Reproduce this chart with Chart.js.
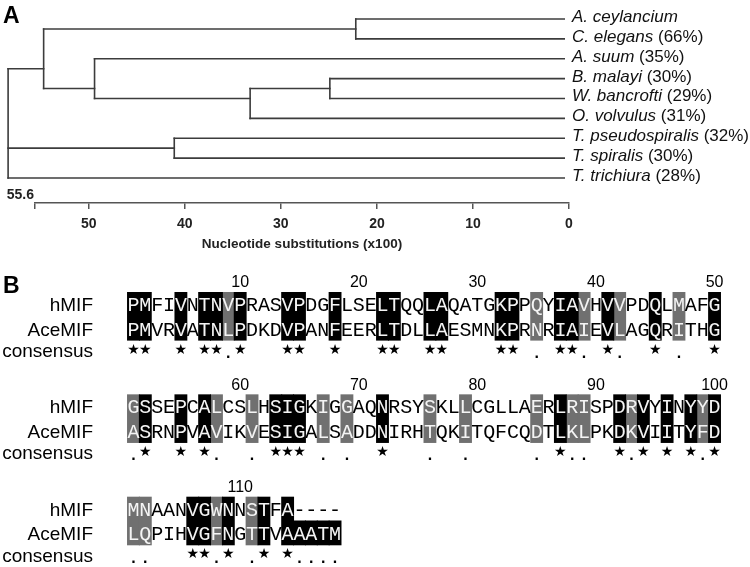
<!DOCTYPE html>
<html>
<head>
<meta charset="utf-8">
<script src="https://cdn.jsdelivr.net/npm/chart.js@4.4.1/dist/chart.umd.min.js"></script>
<style>
html, body { margin: 0; padding: 0; background: #fff; }
canvas { display: block; }
</style>
</head>
<body>
<canvas id="tree" width="750" height="255"></canvas>
<canvas id="align" width="750" height="312"></canvas>
<script>
// ---- panel A : MIF tree ----
const leafNames = ['A. ceylancium', 'C. elegans', 'A. suum', 'B. malayi', 'W. bancrofti',
                   'O. volvulus', 'T. pseudospiralis', 'T. spiralis', 'T. trichiura'];
const leafIdentity = [null, 66, 35, 30, 29, 31, 32, 30, 28];
// node height (nucleotide substitutions x100) and children (leaf index or node name)
const nodeHeight = { ce: 22.2, bw: 24.9, bwo: 33.2, asbwo: 49.4, top: 54.7, tt: 41.1, root: 58.4 };
const nodeKids = { ce: [0, 1], bw: [3, 4], bwo: ['bw', 5], asbwo: [2, 'bwo'],
                   top: ['ce', 'asbwo'], tt: [6, 7], root: ['top', 'tt', 8] };
const leafEnd = 0.5;
const axisTicks = [55.6, 50, 40, 30, 20, 10, 0];

// ---- panel B : hMIF / AceMIF alignment ----
const blockNumbers = [[10, 20, 30, 40, 50], [60, 70, 80, 90, 100], [110]];
const hMIF = ['PMFIVNTNVPRASVPDGFLSELTQQLAQATGKPPQYIAVHVVPDQLMAFG',
              'GSSEPCALCSLHSIGKIGGAQNRSYSKLLCGLLAERLRISPDRVYINYYD',
              'MNAANVGWNNSTFA----'];
const aceMIF = ['PMVRVATNLPDKDVPANFEERLTDLLAESMNKPRNRIAIEVLAGQRITHG',
                'ASRNPVAVIKVESIGALSADDNIRHTQKITQFCQDTLKLPKDKVIITYFD',
                'LQPIHVGFNGTTVAAATM'];
const consensus = ['**  * **.*   **  *   **  **    ** . **. *.  * .  *',
                   '.*  * *.  . *** . .  *   .  .     . *..  *.* * *.*',
                   '..   **.* .* *....'];
// K = identical (black), G = similar (grey), a = AceMIF row only
const shade = ['KK  K KKGK   KK  K   KK  KK    KK G KKG KG  K G  K',
               'GK  K KG  G KKK G G  K   G  G     G KGG  KGK K KGK',
               'GG   KKGK GK Kaaaa'];
const rowNames = ['hMIF', 'AceMIF', 'consensus'];

Chart.defaults.font.family = '"Liberation Sans", Arial, sans-serif';
const SANS = '"Liberation Sans", Arial, sans-serif';

// tree segments
function leavesOf(k) { return typeof k === 'number' ? [k] : nodeKids[k].flatMap(leavesOf); }
function yOf(k) { const l = leavesOf(k); return l.reduce((a, b) => a + b, 0) / l.length; }
function xOf(k) { return typeof k === 'number' ? leafEnd : nodeHeight[k]; }
const segs = [];
Object.keys(nodeKids).forEach(n => {
  const h = nodeHeight[n];
  const ys = nodeKids[n].map(yOf);
  segs.push([{ x: h, y: Math.min(...ys) }, { x: h, y: Math.max(...ys) }]);
  nodeKids[n].forEach((k, i) => segs.push([{ x: h, y: ys[i] }, { x: xOf(k), y: ys[i] }]));
});

const treeLabels = {
  id: 'treeLabels',
  afterDraw(chart) {
    const { ctx, scales: { x, y } } = chart;
    ctx.save();
    ctx.fillStyle = '#000';
    ctx.textBaseline = 'alphabetic';
    ctx.font = 'bold 23px ' + SANS;
    ctx.fillText('A', 3, 23);
    const lx = x.getPixelForValue(0) + 3;
    leafNames.forEach((name, i) => {
      const py = y.getPixelForValue(i) + 3;
      ctx.fillStyle = '#111';
      ctx.font = 'italic 17px ' + SANS;
      ctx.fillText(name, lx, py);
      if (leafIdentity[i] != null) {
        const w = ctx.measureText(name + ' ').width;
        ctx.font = '17px ' + SANS;
        ctx.fillText('(' + leafIdentity[i] + '%)', lx + w, py);
      }
    });
    ctx.font = 'bold 14px ' + SANS;
    ctx.fillStyle = '#222';
    ctx.textAlign = 'right';
    ctx.fillText(String(axisTicks[0]), x.left - 1, x.top - 4);
    ctx.restore();
  }
};

new Chart(document.getElementById('tree'), {
  type: 'scatter',
  data: {
    datasets: segs.map(s => ({
      data: s, showLine: true, borderColor: '#3c3c3c', borderWidth: 1.6,
      borderCapStyle: 'square', pointRadius: 0, clip: false
    }))
  },
  options: {
    responsive: false, animation: false,
    layout: { padding: { left: 35, right: 181, top: 19, bottom: 0 } },
    plugins: { legend: { display: false }, tooltip: { enabled: false } },
    scales: {
      x: {
        type: 'linear', reverse: true, min: 0, max: 55.6,
        afterBuildTicks: s => { s.ticks = axisTicks.map(v => ({ value: v })); },
        afterFit: s => { s.height = 52; },
        grid: { drawOnChartArea: false, drawTicks: true, tickLength: 6, color: '#555', lineWidth: 1.5 },
        border: { display: true, color: '#555', width: 1.5 },
        ticks: {
          padding: 7, maxRotation: 0, autoSkip: false, color: '#222',
          font: { size: 14, weight: 'bold' },
          callback: v => (v === axisTicks[0] ? '' : v)
        },
        title: {
          display: true, text: 'Nucleotide substitutions (x100)', color: '#222',
          font: { size: 13.5, weight: 'bold' }, padding: { top: 0, bottom: 3 }
        }
      },
      y: { type: 'linear', reverse: true, min: 0, max: 9.26, display: false }
    }
  },
  plugins: [treeLabels]
});

// ---- alignment panel ----
const ROW = 23;            // px per row unit
const FIRST = 2.13;        // hMIF row centre of block 1 (row units)
const STEP = 4.45;         // block pitch
const ACE = 1.07, CONS = 2.0, NUM = -0.98;
const identCells = [], simCells = [];
shade.forEach((s, b) => {
  const base = FIRST + b * STEP;
  [...s].forEach((k, i) => {
    if (k === 'K') identCells.push({ x: i + 1, y: [base - 0.5, base + ACE + 0.5] });
    else if (k === 'G') simCells.push({ x: i + 1, y: [base - 0.5, base + ACE + 0.5] });
    else if (k === 'a') identCells.push({ x: i + 1, y: [base + 0.535, base + ACE + 0.5] });
  });
});

const alignText = {
  id: 'alignText',
  afterDatasetsDraw(chart) {
    const { ctx, scales: { x, y } } = chart;
    ctx.save();
    ctx.fillStyle = '#000';
    ctx.textBaseline = 'alphabetic';
    ctx.font = 'bold 23px ' + SANS;
    ctx.fillText('B', 3, 38);
    hMIF.forEach((hs, b) => {
      const base = FIRST + b * STEP;
      const rows = [hs, aceMIF[b]];
      // row names
      ctx.textAlign = 'right';
      ctx.fillStyle = '#000';
      ctx.font = '19px ' + SANS;
      [base, base + ACE, base + CONS].forEach((r, j) => {
        ctx.fillText(rowNames[j], 93, y.getPixelForValue(r) + 7);
      });
      // numbers
      ctx.textAlign = 'center';
      ctx.font = '16px ' + SANS;
      blockNumbers[b].forEach(n => {
        ctx.fillText(String(n), x.getPixelForValue(n - (b * 50)), y.getPixelForValue(base + NUM) + 6);
      });
      // residues
      ctx.font = '20px "Liberation Mono", "Courier New", monospace';
      rows.forEach((seq, j) => {
        const py = y.getPixelForValue(base + (j ? ACE : 0)) + 7;
        [...seq].forEach((ch, i) => {
          const k = shade[b][i];
          const boxed = k === 'K' || k === 'G' || (k === 'a' && j === 1);
          ctx.fillStyle = boxed ? '#f4f4f4' : '#000';
          ctx.fillText(ch, x.getPixelForValue(i + 1), py);
        });
      });
      // consensus symbols
      const cy = y.getPixelForValue(base + CONS);
      [...consensus[b]].forEach((ch, i) => {
        const px = x.getPixelForValue(i + 1);
        ctx.fillStyle = '#000';
        if (ch === '*') {
          ctx.font = '14px "DejaVu Sans", sans-serif';
          ctx.textBaseline = 'middle';
          ctx.fillText('\u2605', px, cy);
        } else if (ch === '.') {
          ctx.font = 'bold 16px ' + SANS;
          ctx.textBaseline = 'alphabetic';
          ctx.fillText('.', px, cy + 8);
        }
        ctx.textBaseline = 'alphabetic';
      });
    });
    ctx.restore();
  }
};

new Chart(document.getElementById('align'), {
  type: 'bar',
  data: {
    datasets: [
      { label: 'identical', data: identCells, backgroundColor: '#000', grouped: false,
        barPercentage: 1, categoryPercentage: 1, inflateAmount: 0.5, borderWidth: 0 },
      { label: 'similar', data: simCells, backgroundColor: '#707070', grouped: false,
        barPercentage: 1, categoryPercentage: 1, inflateAmount: 0.5, borderWidth: 0 }
    ]
  },
  options: {
    responsive: false, animation: false,
    layout: { padding: { left: 109, right: 11, top: 0, bottom: 0 } },
    plugins: { legend: { display: false }, tooltip: { enabled: false } },
    scales: {
      x: { type: 'linear', min: 0.5, max: 50.5, display: false, ticks: { stepSize: 1 } },
      y: { type: 'linear', min: 0, max: 312 / ROW, reverse: true, display: false }
    }
  },
  plugins: [alignText]
});
</script>
</body>
</html>
